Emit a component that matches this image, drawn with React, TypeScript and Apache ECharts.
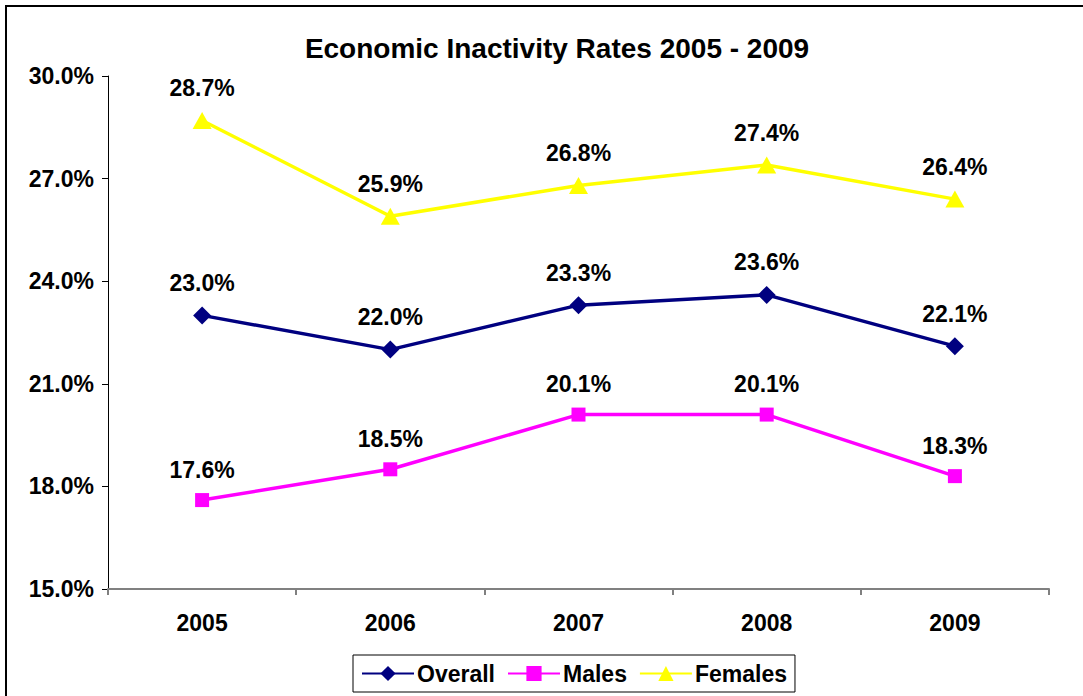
import React, { useEffect, useRef } from "react";
import * as echarts from "echarts";

const categories = ["2005", "2006", "2007", "2008", "2009"];
const overall = [23.0, 22.0, 23.3, 23.6, 22.1];
const males = [17.6, 18.5, 20.1, 20.1, 18.3];
const females = [28.7, 25.9, 26.8, 27.4, 26.4];
const yTicks = { min: 15, max: 30, interval: 3 };
const titleText = "Economic Inactivity Rates 2005 - 2009";

const FONT = "'Liberation Sans', Arial, Helvetica, sans-serif";

export default function App() {
  const ref = useRef<HTMLDivElement>(null);
  useEffect(() => {
    if (!ref.current) return;
    const chart = echarts.init(ref.current, null, { renderer: "svg" });
    const labelStyle = {
      show: true,
      position: "top" as const,
      distance: 12,
      fontFamily: FONT,
      fontWeight: "bold" as const,
      fontSize: 23,
      color: "#000",
      formatter: (p: any) => Number(p.value).toFixed(1) + "%",
    };
    const mk = (name: string, data: number[], color: string, symbol: string, size: number | number[]) => ({
      name,
      type: "line",
      data,
      symbol,
      symbolSize: size,
      showSymbol: true,
      lineStyle: { color, width: 3.5 },
      itemStyle: { color },
      label: labelStyle,
      emphasis: { disabled: true },
    });
    chart.setOption({
      animation: false,
      backgroundColor: "#fff",
      textStyle: { fontFamily: FONT },
      title: {
        text: titleText,
        left: 552,
        textAlign: "center",
        top: 29,
        textStyle: { fontFamily: FONT, fontWeight: "bold", fontSize: 28, color: "#000" },
      },
      graphic: [
        {
          type: "rect",
          shape: { x: 6, y: 6, width: 1100, height: 720 },
          style: { fill: "none", stroke: "#000", lineWidth: 2 },
          silent: true,
        },
      ],
      legend: {
        bottom: 4,
        left: 353,
        width: 451,
        data: ["Overall", "Males", "Females"],
        borderColor: "#000",
        borderWidth: 1,
        padding: [7, 8, 7, 8],
        itemWidth: 52,
        itemHeight: 19,
        itemGap: 12,
        textStyle: { fontFamily: FONT, fontWeight: "bold", fontSize: 23, color: "#000", padding: [0, 0, 0, -2] },
      },
      grid: { left: 108, right: 34, top: 76, bottom: 107, containLabel: false },
      xAxis: {
        type: "category",
        data: categories,
        boundaryGap: true,
        axisLine: { lineStyle: { color: "#808080", width: 2 } },
        axisTick: { show: true, length: 6, lineStyle: { color: "#808080", width: 2 } },
        axisLabel: { margin: 22, fontFamily: FONT, fontWeight: "bold", fontSize: 23, color: "#000" },
        splitLine: { show: false },
      },
      yAxis: {
        type: "value",
        min: yTicks.min,
        max: yTicks.max,
        interval: yTicks.interval,
        axisLine: { show: true, lineStyle: { color: "#000", width: 1 } },
        axisTick: { show: true, length: 6, lineStyle: { color: "#000" } },
        axisLabel: {
          margin: 14,
          fontFamily: FONT,
          fontWeight: "bold",
          fontSize: 23,
          color: "#000",
          formatter: (v: number) => v.toFixed(1) + "%",
        },
        splitLine: { show: false },
      },
      series: [
        mk("Overall", overall, "#000080", "diamond", 18),
        mk("Males", males, "#FF00FF", "rect", 14),
        mk("Females", females, "#FFFF00", "triangle", [19, 17]),
      ],
    });
    return () => chart.dispose();
  }, []);
  return (
    <div
      ref={ref}
      style={{ position: "fixed", left: 0, top: 0, width: 1083, height: 696 }}
    />
  );
}
